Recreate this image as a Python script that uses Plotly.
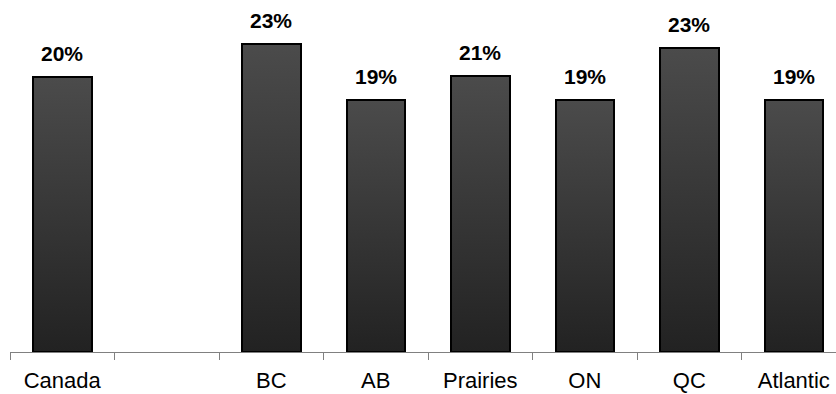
import plotly.graph_objects as go

# Share by region (fraction); the second slot is an intentional gap
regions = ["Canada", " ", "BC", "AB", "Prairies", "ON", "QC", "Atlantic"]
shares = [0.2046, None, 0.2290, 0.1875, 0.2055, 0.1875, 0.2262, 0.1875]

bar_width = 0.56
x_range = [-0.5, 7.404]
y_range = [0, 0.2619]
grad_scale = [[0, "#222222"], [1, "#4b4b4b"]]

fig = go.Figure()

# Vertical gradient fill for each bar, on a hidden linear axis aligned with the category axis
for i, v in enumerate(shares):
    if v is None:
        continue
    half = bar_width / 2
    fig.add_trace(go.Scatter(
        x=[i - half, i + half, i + half, i - half, i - half],
        y=[0, 0, v, v, 0],
        mode="lines",
        fill="toself",
        fillgradient=dict(type="vertical", colorscale=grad_scale, start=0, stop=v),
        line=dict(width=0),
        hoverinfo="skip",
        showlegend=False,
        xaxis="x",
        yaxis="y",
    ))

# Bar outlines on the category axis
fig.add_trace(go.Bar(
    x=regions,
    y=shares,
    width=bar_width,
    marker=dict(color="rgba(0,0,0,0)", line=dict(color="#000000", width=2)),
    showlegend=False,
    xaxis="x2",
    yaxis="y",
))

# Percentage labels above the bars
for cat, v in zip(regions, shares):
    if v is None:
        continue
    fig.add_annotation(
        x=cat, y=v, xref="x2", yref="y",
        text=f"<b>{v:.0%}</b>",
        showarrow=False,
        yanchor="bottom",
        yshift=10,
        font=dict(family="Liberation Sans, Arial, sans-serif", size=21, color="#000000"),
    )

fig.update_layout(
    width=836,
    height=394,
    margin=dict(l=10, r=0, t=0, b=42),
    paper_bgcolor="white",
    plot_bgcolor="white",
    bargap=0,
    xaxis=dict(range=x_range, visible=False, fixedrange=True, automargin=False),
    xaxis2=dict(
        type="category",
        categoryorder="array",
        categoryarray=regions,
        overlaying="x",
        anchor="y",
        side="bottom",
        range=x_range,
        automargin=False,
        tickson="boundaries",
        ticks="outside",
        ticklen=7,
        tickwidth=1,
        tickcolor="#808080",
        showline=True,
        linecolor="#808080",
        linewidth=1,
        showgrid=False,
        zeroline=False,
        ticklabelstandoff=9,
        tickfont=dict(family="Liberation Sans, Arial, sans-serif", size=22, color="#000000"),
    ),
    yaxis=dict(range=y_range, visible=False, showgrid=False, zeroline=False,
               automargin=False),
)

fig.write_html("out.html")
